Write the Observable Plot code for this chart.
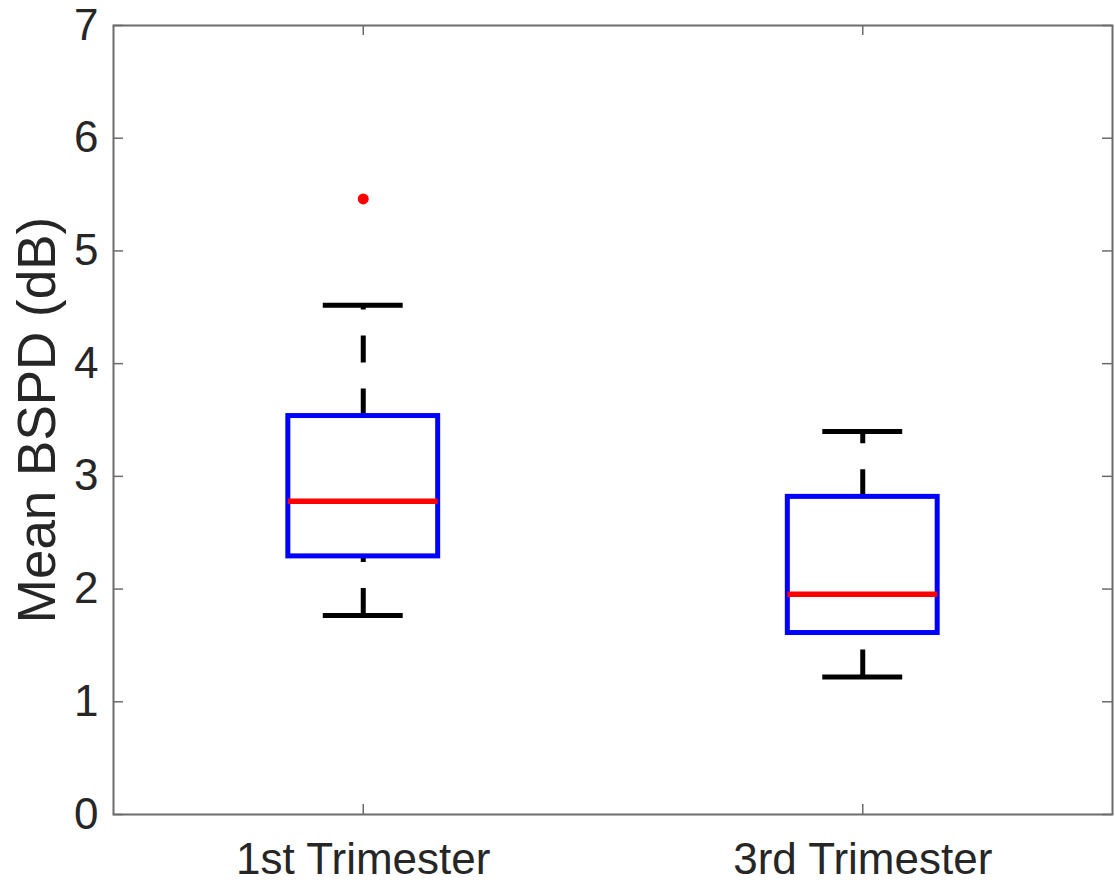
<!DOCTYPE html>
<html>
<head>
<meta charset="utf-8">
<script src="https://cdn.jsdelivr.net/npm/d3@7"></script>
<script src="https://cdn.jsdelivr.net/npm/@observablehq/plot@0.6"></script>
<style>
  html, body { margin: 0; padding: 0; background: #ffffff; }
  #chart { width: 1115px; height: 882px; }
</style>
</head>
<body>
<div id="chart"></div>
<script>
// ---- data ----
const categories = ["1st Trimester", "3rd Trimester"];
const positions = [1, 2];
const q1Values = [2.29, 1.61];
const medianValues = [2.78, 1.954];
const q3Values = [3.535, 2.818];
const whiskerLow = [1.765, 1.22];
const whiskerHigh = [4.517, 3.399];
const outlierPositions = [1];
const outlierValues = [5.461];
const yTicks = [0, 1, 2, 3, 4, 5, 6, 7];
const yLabel = "Mean BSPD (dB)";

const rows = positions.map((p, i) => ({
  pos: p, cat: categories[i],
  q1: q1Values[i], med: medianValues[i], q3: q3Values[i],
  lo: whiskerLow[i], hi: whiskerHigh[i]
}));
const outliers = outlierPositions.map((p, i) => ({pos: p, value: outlierValues[i]}));

const boxHalf = 0.15;
const capHalf = 0.08;
const frameGray = "#6b6b6b";

const chart = Plot.plot({
  width: 1115,
  height: 882,
  marginLeft: 113,
  marginRight: 3,
  marginTop: 25,
  marginBottom: 68,
  x: {domain: [0.5, 2.5]},
  y: {domain: [0, 7]},
  style: {fontFamily: "'Liberation Sans', Arial, sans-serif", color: "#262626", background: "#ffffff"},
  marks: [
    // whiskers (dashed)
    Plot.ruleX(rows, {x: "pos", y1: "q3", y2: "hi", stroke: "black", strokeWidth: 5, strokeDasharray: "27,26"}),
    Plot.ruleX(rows, {x: "pos", y1: "lo", y2: "q1", stroke: "black", strokeWidth: 5, strokeDasharray: "27,26"}),
    // caps
    Plot.ruleY(rows, {y: "hi", x1: d => d.pos - capHalf, x2: d => d.pos + capHalf, stroke: "black", strokeWidth: 5}),
    Plot.ruleY(rows, {y: "lo", x1: d => d.pos - capHalf, x2: d => d.pos + capHalf, stroke: "black", strokeWidth: 5}),
    // boxes
    Plot.rect(rows, {x1: d => d.pos - boxHalf, x2: d => d.pos + boxHalf, y1: "q1", y2: "q3", fill: "none", stroke: "#0000ff", strokeWidth: 5}),
    // medians
    Plot.ruleY(rows, {y: "med", x1: d => d.pos - boxHalf, x2: d => d.pos + boxHalf, stroke: "#ff0000", strokeWidth: 5.5}),
    // outliers
    Plot.dot(outliers, {x: "pos", y: "value", r: 5.5, fill: "#ff0000", stroke: "none"}),
    // frame
    Plot.frame({stroke: frameGray, strokeWidth: 2}),
    // inward ticks
    Plot.ruleY(yTicks, {y: d => d, x1: 0.5, x2: 0.52, stroke: frameGray, strokeWidth: 1.5}),
    Plot.ruleY(yTicks, {y: d => d, x1: 2.48, x2: 2.5, stroke: frameGray, strokeWidth: 1.5}),
    Plot.ruleX(positions, {x: d => d, y1: 0, y2: 0.089, stroke: frameGray, strokeWidth: 1.5}),
    Plot.ruleX(positions, {x: d => d, y1: 6.911, y2: 7, stroke: frameGray, strokeWidth: 1.5}),
    // axes labels
    Plot.axisY({ticks: yTicks, tickFormat: d3.format("d"), tickSize: 0, tickPadding: 15, fontSize: 44, label: null}),
    Plot.axisX({ticks: positions, tickFormat: d => categories[d - 1], tickSize: 0, tickPadding: 28, fontSize: 44, label: null}),
    Plot.text([yLabel], {frameAnchor: "left", textAnchor: "middle", lineAnchor: "middle", rotate: -90, dx: -75, fontSize: 53})
  ]
});
document.getElementById("chart").appendChild(chart);
</script>
</body>
</html>
